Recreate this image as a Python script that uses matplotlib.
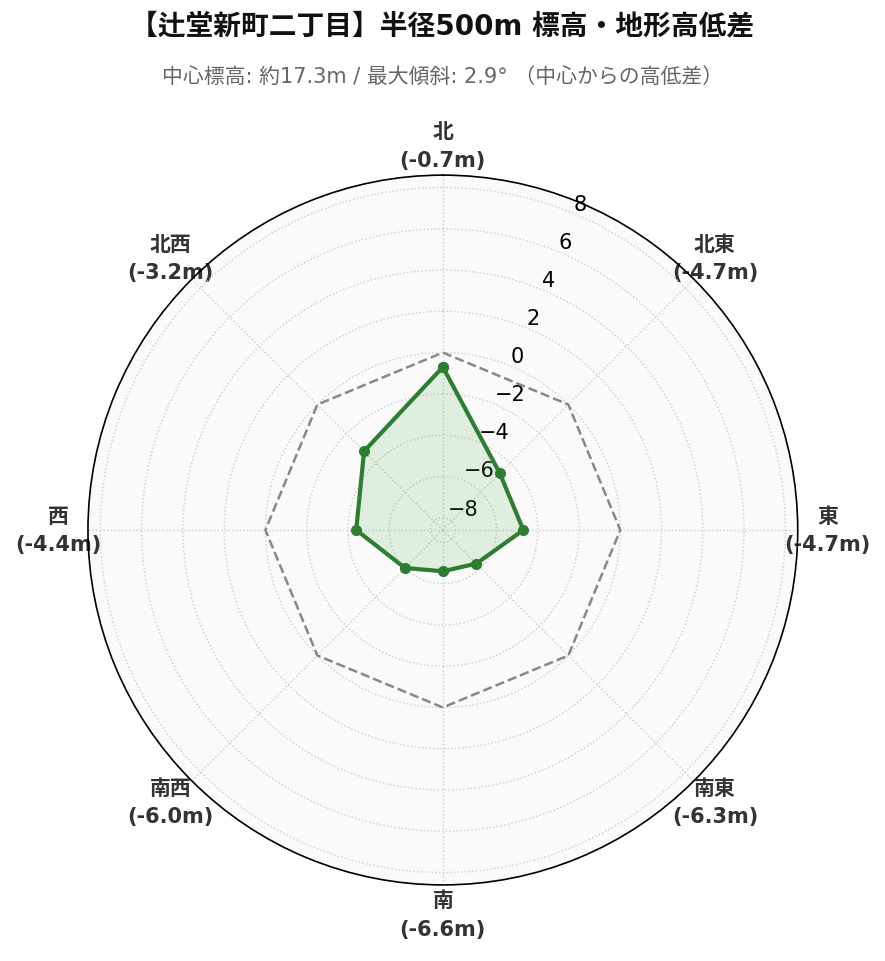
import numpy as np
import matplotlib
matplotlib.use("Agg")
import matplotlib.pyplot as plt

plt.rcParams['font.family'] = ['DejaVu Sans', 'Noto Sans CJK JP']

directions = ['北', '北東', '東', '南東', '南', '南西', '西', '北西']
diffs = [-0.7, -4.7, -4.7, -6.3, -6.6, -6.0, -4.4, -3.2]
rticks = [-8, -6, -4, -2, 0, 2, 4, 6, 8]
title = '【辻堂新町二丁目】半径500m 標高・地形高低差'
subtitle = '中心標高: 約17.3m / 最大傾斜: 2.9° （中心からの高低差）'

n = len(directions)
angles = np.linspace(0, 2 * np.pi, n, endpoint=False)
ang_c = np.concatenate([angles, angles[:1]])
val_c = np.concatenate([diffs, diffs[:1]])

fig = plt.figure(figsize=(8.85, 9.62), dpi=100)
ax = fig.add_axes([0.0994, 0.079, 0.802, 0.738], projection='polar')
ax.set_theta_zero_location('N')
ax.set_theta_direction(-1)
ax.set_facecolor('#fafafa')

ax.plot(ang_c, np.zeros_like(ang_c), linestyle='--', color='#888888', lw=1.8, zorder=2)
ax.fill(ang_c, val_c, color='#4caf50', alpha=0.15, zorder=3)
ax.plot(ang_c, val_c, color='#2e7d32', lw=3, marker='o', markersize=7, zorder=4)

ax.set_ylim(-8.6, 8.6)
ax.set_yticks(rticks)
ax.set_yticklabels([f'\u2212{abs(t)}' if t < 0 else str(t) for t in rticks],
                   fontsize=15)
ax.set_rlabel_position(22.5)
ax.set_xticks(angles)
labels = ax.set_xticklabels([f'{d}\n({v:.1f}m)' for d, v in zip(directions, diffs)],
                            fontsize=15, fontweight='bold', color='#333333')
for lbl in labels:
    lbl.set_linespacing(1.55)
ax.tick_params(axis='x', pad=11)
ax.grid(True, linestyle=':', color='#cccccc', lw=1)
ax.spines['polar'].set_color('black')
ax.spines['polar'].set_linewidth(1.2)

fig.text(0.5, 0.972, title, ha='center', va='center', fontsize=20, fontweight='bold', color='#111111')
fig.text(0.5, 0.92, subtitle, ha='center', va='center', fontsize=15, color='#666666')

fig.savefig('out.png', dpi=100, facecolor='white')
